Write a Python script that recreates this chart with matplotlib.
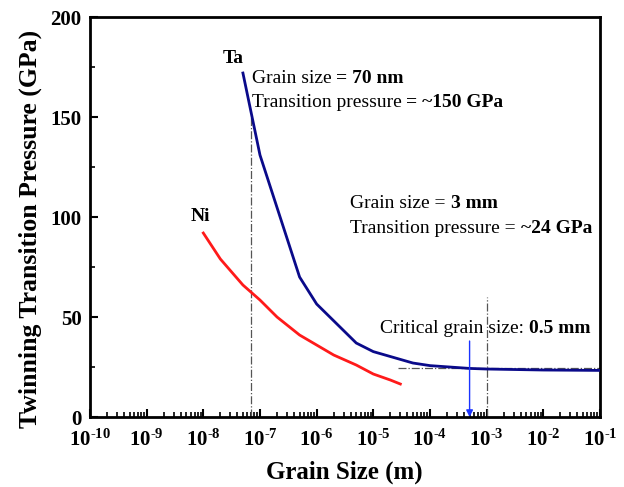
import matplotlib
matplotlib.use("Agg")
import matplotlib.pyplot as plt
from matplotlib.ticker import LogLocator, FixedLocator, NullFormatter

plt.rcParams['font.family'] = ['Liberation Serif', 'DejaVu Serif']
plt.rcParams['mathtext.fontset'] = 'custom'
plt.rcParams['mathtext.rm'] = 'Liberation Serif:bold'
plt.rcParams['mathtext.bf'] = 'Liberation Serif:bold'
plt.rcParams['mathtext.it'] = 'Liberation Serif:bold'

# Data
ta_size = [5e-8, 1e-7, 5e-7, 1e-6, 5e-6, 1e-5, 5e-5, 1e-4, 5e-4, 1e-3, 1e-2, 1e-1]
ta_pressure = [172, 131, 70, 56.5, 37, 32.7, 27, 25.7, 24.3, 24, 23.5, 23.3]
ni_size = [1e-8, 2e-8, 5e-8, 1e-7, 2e-7, 5e-7, 1e-6, 2e-6, 5e-6, 1e-5, 2e-5, 3e-5]
ni_pressure = [92, 79, 66, 58.5, 50, 41, 36, 31, 26, 21.5, 18.5, 16.5]

xexp = list(range(-10, 0))
xticks = [10.0 ** e for e in xexp]
xticklabels = [r'$\mathbf{10^{\text{-}%d}}$' % (-e) for e in xexp]
yticks = [0, 50, 100, 150, 200]

fig = plt.figure(figsize=(6.24, 4.87), dpi=100)
ax = fig.add_axes([0.1442, 0.1437, 0.8173, 0.8213])

ax.plot(ta_size, ta_pressure, color='#0a0a8a', lw=2.0, zorder=3)
ax.plot(ni_size, ni_pressure, color='#ff1a1a', lw=2.0, zorder=3)

# reference lines
ax.plot([7e-8, 7e-8], [0, 150], color='#555555', lw=0.9, ls='-.', zorder=2)
ax.plot([1e-3, 1e-3], [0, 60], color='#555555', lw=0.9, ls='-.', zorder=2)
ax.plot([2.7e-5, 1e-1], [24.5, 24.5], color='#555555', lw=0.9, ls='-.', zorder=2)

# critical grain size arrow
ax.annotate('', xy=(5e-4, 0), xytext=(5e-4, 38),
            arrowprops=dict(arrowstyle='-|>', color='#1a33ff', lw=1.0,
                            mutation_scale=10, shrinkA=0, shrinkB=0), zorder=4)

ax.set_xscale('log')
ax.set_xlim(1e-10, 1e-1)
ax.set_ylim(0, 200)
ax.xaxis.set_major_locator(FixedLocator(xticks))
ax.set_xticklabels(xticklabels)
ax.xaxis.set_minor_locator(LogLocator(base=10, subs=range(2, 10), numticks=50))
ax.xaxis.set_minor_formatter(NullFormatter())
ax.set_yticks(yticks)
ax.set_yticks([25, 75, 125, 175], minor=True)

ax.tick_params(which='both', direction='in', top=False, right=False)
ax.tick_params(which='major', length=6, width=1.5, labelsize=15)
ax.tick_params(axis='x', which='major', pad=9)
ax.tick_params(axis='y', which='major', pad=6)
ax.tick_params(which='minor', length=3.5, width=1.2)
for lab in ax.get_yticklabels():
    lab.set_fontweight('bold')
for sp in ax.spines.values():
    sp.set_linewidth(2.0)

fig.text(344 / 624, 1 - 472 / 487, 'Grain Size (m)', fontsize=18, fontweight='bold',
         ha='center', va='center')
fig.text(30 / 624, 1 - 229 / 487, 'Twinning Transition Pressure (GPa)', fontsize=18.5,
         fontweight='bold', ha='center', va='center', rotation=90)

# annotations
ax.text(5.2e-8, 175, 'Ta', fontsize=14, fontweight='bold', ha='right', va='bottom')
ax.text(1.3e-8, 96, 'Ni', fontsize=14, fontweight='bold', ha='right', va='bottom')


def two_part(x, y, normal, bold, size=14):
    t1 = ax.text(x, y, normal, fontsize=size, ha='left', va='baseline')
    ax.annotate(bold, xy=(1, 0), xycoords=t1, xytext=(0, 0), textcoords='offset points',
                fontsize=size, fontweight='bold', ha='left', va='bottom')


two_part(7.1e-8, 167, 'Grain size ', '= 70 nm')
two_part(7.1e-8, 155, 'Transition pressure ', '= ~150 GPa')
two_part(3.9e-6, 104.5, 'Grain size = ', '3 mm')
two_part(3.9e-6, 92, 'Transition pressure = ', '~24 GPa')
two_part(1.3e-5, 42, 'Critical grain size: ', '0.5 mm')

fig.savefig('out.png', dpi=100)
